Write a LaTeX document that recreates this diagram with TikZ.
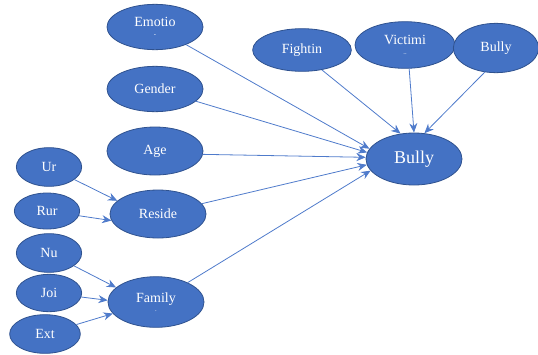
\documentclass[tikz,border=0pt]{standalone}
\usepackage{fontspec}
\setmainfont{Liberation Serif}
\newfontfamily\labelfont{Liberation Serif}
\usetikzlibrary{shapes.geometric,arrows.meta}

\definecolor{nodeblue}{HTML}{4472C4}
\definecolor{edgeblue}{HTML}{2F528F}
\definecolor{linkblue}{HTML}{4F7BCB}

\tikzset{
  factor/.style={ellipse, draw=edgeblue, line width=0.6pt, fill=nodeblue,
    text=white, font=\labelfont\fontsize{10.5}{11}\selectfont, inner sep=0pt,
    minimum width=72pt, minimum height=34pt, align=center},
  small/.style={factor, minimum width=49pt, minimum height=29pt},
  link/.style={draw=linkblue, line width=0.6pt, -{Stealth[length=7pt,width=6pt]}}
}

\begin{document}
\begin{tikzpicture}[x=0.75pt,y=-0.75pt]

%%% frame of the picture
\useasboundingbox (0,0) rectangle (538,354);

%% outcome
\node[factor, minimum width=72pt, minimum height=39pt,
  font=\labelfont\fontsize{13.5}{14}\selectfont] (bully) at (414,159) {Bully};

%% top row
\node[factor, minimum width=74pt, minimum height=32pt] (fight) at (302,50) {Fightin};
\node[factor, minimum width=75pt, minimum height=35pt] (victim) at (405,45)
  {Victimi\\[-4pt]{\tiny ..}};
\node[factor, minimum width=64pt, minimum height=37pt] (bullyb) at (496,48) {Bully};

%% left column
\node[factor] (emotion) at (155,27) {Emotio\\[-4pt]{\tiny -}};
\node[factor] (gender) at (155,89) {Gender};
\node[factor, minimum height=36pt] (age) at (155,151) {Age};
\node[factor, minimum height=36pt] (reside) at (158,214) {Reside};
\node[factor, minimum height=38pt] (family) at (156,302) {Family\\[-4pt]{\tiny .}};

%% residence
\node[small] (urban) at (49,167) {Ur};
\node[small, minimum height=27pt] (rural) at (47,211) {Rur};

%% family type
\node[small] (nuclear) at (49,253) {Nu};
\node[small, minimum height=28pt] (joint) at (49,293) {Joi};
\node[small, minimum width=53pt] (extended) at (45,334) {Ext};

%% links into the outcome
\draw[link] (emotion) -- (bully.167);
\draw[link] (gender) -- (bully.172);
\draw[link] (age.-4) -- (bully.178);
\draw[link] (reside) -- (bully.187);
\draw[link] (family) -- (bully.195);
\draw[link] (fight.-45) -- (bully.118);
\draw[link] (victim.-80) -- (bully.north);
\draw[link] (bullyb.-115) -- (bully.68);

%% links into the groups
\draw[link] (urban) -- (reside.162);
\draw[link] (rural) -- (reside.188);
\draw[link] (nuclear) -- (family.160);
\draw[link] (joint) -- (family.178);
\draw[link] (extended) -- (family.195);

\end{tikzpicture}
\end{document}
